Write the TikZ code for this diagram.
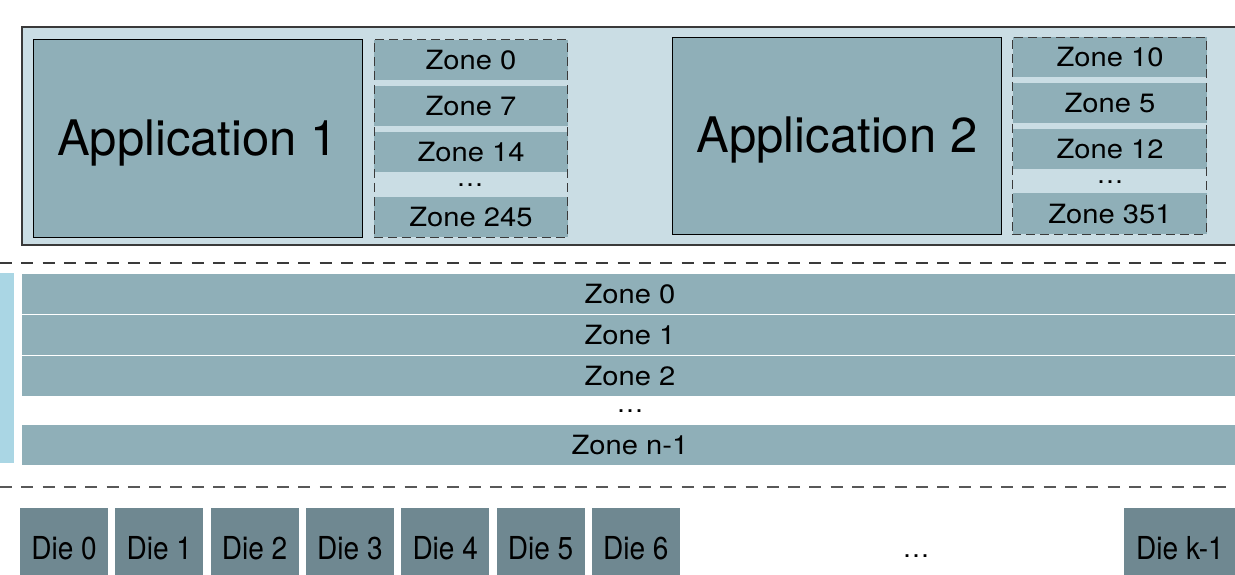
\documentclass[tikz,border=0pt]{standalone}
\usepackage{fontspec}
\usepackage{graphicx}
\setmainfont{TeX Gyre Heros}
\definecolor{hostbg}{HTML}{CADDE4}
\definecolor{zonefill}{HTML}{8FAFB8}
\definecolor{diefill}{HTML}{6F8891}
\definecolor{stripfill}{HTML}{AAD6E4}
\definecolor{edge}{HTML}{3A3A3A}
% wide zone lettering and tall die lettering
\newcommand\zlabel[1]{\scalebox{1.1}[1]{#1}}
\newcommand\dlabel[1]{\scalebox{1}[1.13]{#1}}
\tikzset{
  every node/.style={inner sep=0pt, outer sep=0pt},
  appbox/.style={draw=black, line width=0.8pt, fill=zonefill,
    minimum width=329pt, minimum height=198pt,
    font=\fontsize{49}{55}\selectfont, text height=35pt, text depth=0pt},
  zonebox/.style={fill=zonefill, minimum height=40pt,
    font=\fontsize{26.5}{30}\selectfont, text height=19pt, text depth=0pt},
  colbox/.style={draw=edge, line width=0.9pt, dash pattern=on 9pt off 5pt},
  diebox/.style={fill=diefill, minimum width=88pt, minimum height=80pt,
    font=\fontsize{28}{32}\selectfont, text height=22.7pt, text depth=0pt},
  dotlabel/.style={font=\fontsize{27}{30}\selectfont, text height=3pt, text depth=0pt},
  sepline/.style={line width=1.4pt, dash pattern=on 12pt off 9.3pt},
}
\begin{document}
\begin{tikzpicture}[x=1pt, y=-1pt]
\useasboundingbox (0,0) rectangle (1235,575);

% host area holding the two applications
\node[draw=edge, line width=1.2pt, fill=hostbg, minimum width=1218pt, minimum height=218pt]
  (host) at (631,136) {};

% application 1 and its zones
\node[appbox] (app1) at (197.5,138) {Application 1};
\node[zonebox, minimum width=194pt] (a1z0) at (471,60) {\zlabel{Zone 0}};
\node[zonebox, minimum width=194pt] (a1z7) at (471,106) {\zlabel{Zone 7}};
\node[zonebox, minimum width=194pt] (a1z14) at (471,152) {\zlabel{Zone 14}};
\node[dotlabel] (a1dots) at (470,184.5) {…};
\node[zonebox, minimum width=194pt] (a1z245) at (471,217) {\zlabel{Zone 245}};
\node[colbox, minimum width=193pt, minimum height=198pt] (col1) at (470.5,138) {};

% application 2 and its zones
\node[appbox, minimum height=197pt] (app2) at (837,135.5) {Application 2};
\node[zonebox, minimum width=194pt] (a2z10) at (1110,57) {\zlabel{Zone 10}};
\node[zonebox, minimum width=194pt] (a2z5) at (1110,103) {\zlabel{Zone 5}};
\node[zonebox, minimum width=194pt] (a2z12) at (1110,149.5) {\zlabel{Zone 12}};
\node[dotlabel] (a2dots) at (1110,182.5) {…};
\node[zonebox, minimum width=194pt] (a2z351) at (1110,213.5) {\zlabel{Zone 351}};
\node[colbox, minimum width=194pt, minimum height=197pt] (col2) at (1109,135.5) {};

% upper separator
\coordinate (s1a) at (0,263);
\coordinate (s1b) at (1240,263);
\draw[sepline, draw=edge] (s1a) -- (s1b);

% side strip
\node[fill=stripfill, minimum width=14pt, minimum height=190pt] (strip) at (7,368) {};

% device zones
\node[zonebox, minimum width=1216pt] (dz0) at (630,294) {\zlabel{Zone 0}};
\node[zonebox, minimum width=1216pt] (dz1) at (630,335) {\zlabel{Zone 1}};
\node[zonebox, minimum width=1216pt] (dz2) at (630,376) {\zlabel{Zone 2}};
\node[dotlabel] (dzdots) at (630,410.5) {…};
\node[zonebox, minimum width=1216pt] (dzn) at (630,445) {\zlabel{Zone n-1}};

% lower separator
\coordinate (s2a) at (0,487);
\coordinate (s2b) at (1240,487);
\draw[sepline, draw=edge!85] (s2a) -- (s2b);

% dies
\foreach \i in {0,...,6} {
  \node[diebox] (die\i) at ({64+95.3*\i},548) {\dlabel{Die \i}};
}
\node[dotlabel] (diedots) at (916,556) {…};
\node[diebox, minimum width=112pt] (diek) at (1180,548) {\dlabel{Die k-1}};
\end{tikzpicture}
\end{document}
